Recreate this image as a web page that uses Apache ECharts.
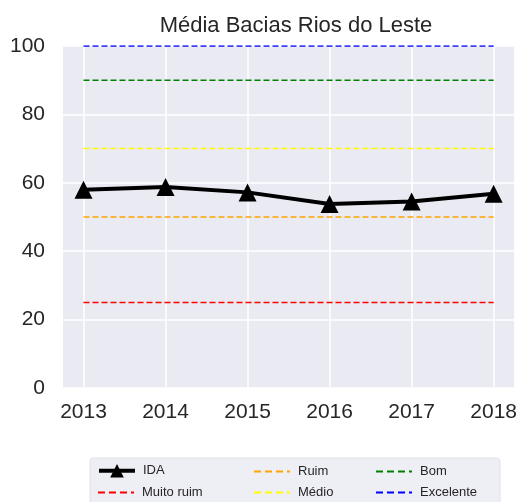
<!DOCTYPE html>
<html>
<head>
<meta charset="utf-8">
<script src="https://cdn.jsdelivr.net/npm/echarts@6/dist/echarts.min.js"></script>
<style>
  html, body { margin: 0; padding: 0; background: #fff; }
  #chart { width: 520px; height: 502px; }
</style>
</head>
<body>
<div id="chart"></div>
<script>
// anos e valores do IDA
var anos = [2013, 2014, 2015, 2016, 2017, 2018];
var ida = [58.0, 58.8, 57.2, 53.8, 54.5, 56.8];
var yTicks = [0, 20, 40, 60, 80, 100];

// faixas de qualidade
var faixas = ['Muito ruim', 'Ruim', 'Médio', 'Bom', 'Excelente'];
var faixaValores = [25, 50, 70, 90, 100];
var faixaCores = ['#ff0000', '#ffa500', '#ffff00', '#008000', '#0000ff'];

var fonte = 'Liberation Sans, Arial, sans-serif';
var chart = echarts.init(document.getElementById('chart'));

var series = [];
faixas.forEach(function (nome, i) {
  series.push({
    name: nome,
    type: 'line',
    data: [[anos[0], faixaValores[i]], [anos[anos.length - 1], faixaValores[i]]],
    showSymbol: false,
    symbol: 'none',
    lineStyle: { color: faixaCores[i], width: 1.5, type: [6, 3] },
    itemStyle: { color: faixaCores[i] },
    silent: true,
    z: 2
  });
});
series.push({
  name: 'IDA',
  type: 'line',
  data: anos.map(function (a, i) { return [a, ida[i]]; }),
  symbol: 'triangle',
  symbolSize: 18,
  lineStyle: { color: '#000', width: 4 },
  itemStyle: { color: '#000' },
  z: 5
});

// uma legenda por item, posicionadas como na grade 3x2 do matplotlib
function legenda(nome, left, top) {
  var item = { name: nome };
  var h = 14;
  if (nome !== 'IDA') {
    item.itemStyle = { opacity: 0 };
    item.lineStyle = { width: 2, type: [7, 4] };
  } else {
    item.lineStyle = { width: 4 };
    h = 17;
    top -= 1;
  }
  return {
    data: [item],
    left: left,
    top: top,
    padding: 0,
    itemGap: 0,
    itemWidth: 36,
    itemHeight: h,
    textStyle: { fontFamily: fonte, fontSize: 13, color: '#262626', padding: [0, 0, 0, 3] },
    selectedMode: false
  };
}

var option = {
  animation: false,
  title: {
    text: 'Média Bacias Rios do Leste',
    left: 291,
    textAlign: 'center',
    top: 10,
    textStyle: { fontFamily: fonte, fontSize: 22, fontWeight: 'normal', color: '#262626' }
  },
  graphic: [{
    type: 'rect',
    shape: { x: 90, y: 458, width: 410, height: 50, r: 3 },
    style: { fill: 'rgba(234,234,242,0.8)', stroke: 'rgba(220,220,228,0.8)', lineWidth: 1 },
    z: 0
  }],
  legend: [
    legenda('IDA', 97, 465),
    legenda('Muito ruim', 97, 486),
    legenda('Ruim', 253, 465),
    legenda('Médio', 253, 486),
    legenda('Bom', 375, 465),
    legenda('Excelente', 375, 486)
  ],
  grid: {
    left: 63, right: 5, top: 46, bottom: 114,
    show: true, backgroundColor: '#eaeaf2', borderWidth: 0,
    containLabel: false
  },
  xAxis: {
    type: 'value',
    min: 2012.75,
    max: 2018.25,
    axisLine: { show: false },
    axisTick: { show: false, customValues: anos },
    axisLabel: {
      customValues: anos,
      margin: 14,
      fontFamily: fonte, fontSize: 21, color: '#262626',
      formatter: function (v) { return String(v); }
    },
    splitLine: { show: true, lineStyle: { color: '#fff', width: 1.5 } }
  },
  yAxis: {
    type: 'value',
    min: yTicks[0],
    max: yTicks[yTicks.length - 1],
    interval: 20,
    axisLine: { show: false },
    axisTick: { show: false },
    axisLabel: { margin: 18, fontFamily: fonte, fontSize: 21, color: '#262626' },
    splitLine: { show: true, lineStyle: { color: '#fff', width: 1.5 } }
  },
  series: series
};
chart.setOption(option);
</script>
</body>
</html>
